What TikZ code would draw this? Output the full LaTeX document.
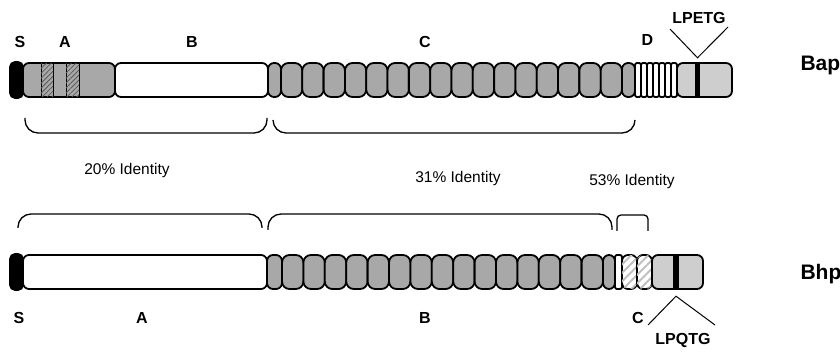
\documentclass[tikz,border=0pt]{standalone}
\usepackage{fontspec}
\setmainfont{Liberation Sans}
\usetikzlibrary{patterns.meta}
\definecolor{domgray}{HTML}{A8A8A8}
\definecolor{lightdom}{HTML}{CECECE}
\begin{document}
\begin{tikzpicture}[x=1pt, y=-1pt,
    seg/.style={draw, line width=1.8pt, rounded corners=6pt, inner sep=0pt, outer sep=0pt, minimum height=34pt},
    sig/.style={seg, fill=black, rounded corners=5pt, minimum width=13pt, minimum height=36pt},
    rep/.style={seg, fill=domgray, rounded corners=7.5pt},
    stripe/.style={seg, fill=white, rounded corners=2pt, minimum width=6pt},
    band/.style={fill=black, inner sep=0pt, minimum width=5pt, minimum height=32pt},
    darkhatch/.style={draw, line width=0.8pt, inner sep=0pt, minimum height=32.3pt, fill=domgray,
        postaction={pattern={Lines[angle=45, distance=3.5pt, line width=0.8pt]}, pattern color=black!65}},
    lighthatch/.style={seg, fill=white, minimum width=15pt,
        postaction={pattern={Lines[angle=45, distance=6pt, line width=2pt]}, pattern color=black!25}},
    lab/.style={font=\fontsize{16}{16}\selectfont\bfseries},
    big/.style={font=\fontsize{21}{21}\selectfont\bfseries},
    ident/.style={font=\fontsize{15.5}{16}\selectfont},
    brace/.style={line width=1.3pt, rounded corners=13pt}]
\useasboundingbox (0,0) rectangle (840,352);

\node[seg, fill=domgray, minimum width=92pt] (ta) at (69,80) {};
\node[darkhatch, minimum width=12pt] (th1) at (47,80) {};
\node[darkhatch, minimum width=13pt] (th2) at (72.5,80) {};
\node[seg, fill=white, minimum width=153pt] (tb) at (191.5,80) {};
\node[rep, rounded corners=6pt, minimum width=13pt] (tc0) at (274.5,80) {};
\foreach \i in {1,...,16}
    \node[rep, minimum width=21.3pt] (tc\i) at ({281+21.3125*(\i-0.5)},80) {};
\node[rep, rounded corners=6pt, minimum width=13pt] (tc17) at (628.5,80) {};
\foreach \i in {1,...,7}
    \node[stripe] (td\i) at ({635+6*(\i-0.5)},80) {};
\node[seg, fill=lightdom, minimum width=55pt] (tw) at (704.5,80) {};
\node[band] (tband) at (697.5,80) {};
\node[sig] (ts) at (16.5,80) {};

\node[seg, fill=white, minimum width=244pt] (ba) at (145,272) {};
\node[rep, rounded corners=6pt, minimum width=15pt] (bb0) at (274.5,272) {};
\foreach \i in {1,...,15}
    \node[rep, minimum width=21.4pt] (bb\i) at ({282+21.4*(\i-0.5)},272) {};
\node[rep, rounded corners=6pt, minimum width=12pt] (bb16) at (609,272) {};
\node[stripe, minimum width=7pt] (bc0) at (618.5,272) {};
\node[lighthatch] (bc1) at (629.5,272) {};
\node[lighthatch] (bc2) at (644.5,272) {};
\node[seg, fill=lightdom, minimum width=51pt] (bw) at (677.5,272) {};
\node[band, minimum width=6pt] (bband) at (676,272) {};
\node[sig] (bs) at (16.5,272) {};

\node[lab] (ls) at (20,42) {S};
\node[lab] (la) at (65,42) {A};
\node[lab] (lb) at (192,42) {B};
\node[lab] (lc) at (425,42) {C};
\node[lab] (ld) at (647.5,40) {D};
\node[lab] (lpetg) at (699,18) {LPETG};
\coordinate (pl) at (670,29);
\coordinate (pr) at (728,27);
\draw[line width=1pt] (pl) -- ([yshift=6pt]tband.north) -- (pr);
\node[big, anchor=base west] (bap) at (797,71) {Bap};

\node[lab] (bls) at (19,318) {S};
\node[lab] (bla) at (142,318) {A};
\node[lab] (blb) at (425,318) {B};
\node[lab] (blc) at (638,318) {C};
\node[lab] (lpqtg) at (683,340) {LPQTG};
\coordinate (ql) at (648,325);
\coordinate (qr) at (715,325);
\draw[line width=1pt] (ql) -- ([yshift=-8pt]bband.south) -- (qr);
\node[big, anchor=base west] (bhp) at (797,280) {Bhp};

\draw[brace] (25,118) -- (25,133) -- (267,133) -- (267,118);
\draw[brace] (273,120) -- (273,133) -- (635,133) -- (635,120);
\draw[brace] (18,228) -- (18,214) -- (262,214) -- (262,228);
\draw[brace] (268,230) -- (268,214) -- (612,214) -- (612,230);
\draw[brace, rounded corners=4pt] (617,231) -- (617,215) -- (648,215) -- (648,231);

\node[ident] (id1) at (127,170) {20\% Identity};
\node[ident] (id2) at (458,178) {31\% Identity};
\node[ident] (id3) at (632,181) {53\% Identity};
\end{tikzpicture}
\end{document}
